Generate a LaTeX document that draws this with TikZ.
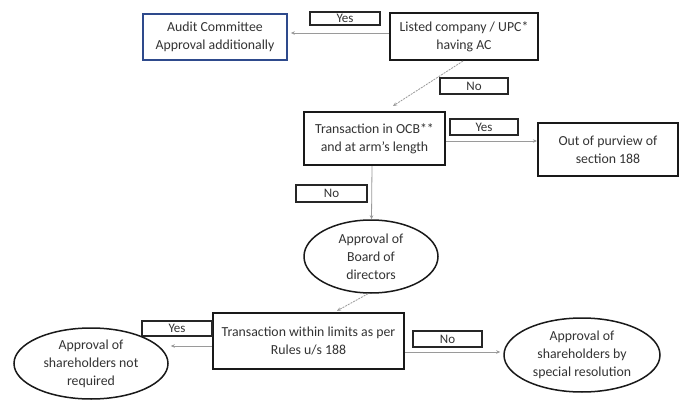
\documentclass[tikz,border=0pt]{standalone}
\usepackage{fontspec}
\setmainfont{Carlito}
\usetikzlibrary{arrows.meta,shapes.geometric}
\definecolor{conncol}{HTML}{9A9A9A}
\definecolor{txtcol}{HTML}{333333}
\definecolor{auditblue}{HTML}{2E4A8C}
\begin{document}
\begin{tikzpicture}[x=1pt,y=-1pt,
  every node/.style={text=txtcol,font=\fontsize{13.8}{18}\selectfont,align=center,inner sep=0pt},
  thickbox/.style={draw=black!90,line width=2.1pt,rectangle},
  bluebox/.style={draw=auditblue,line width=1.8pt,rectangle},
  tag/.style={draw=black!85,line width=1.3pt,rectangle,font=\fontsize{13}{14}\selectfont},
  oval/.style={draw=black!90,line width=1.5pt,ellipse},
  conn/.style={draw=conncol,line width=0.8pt,-{Stealth[length=4pt,width=3.5pt]}},
  dconn/.style={conn,dashed,dash pattern=on 2pt off 1pt}]
\useasboundingbox (0,0) rectangle (680,401);
\fill[white] (0,0) rectangle (680,401);

\node[bluebox,minimum width=144pt,minimum height=46pt] (audit) at (215,37) {Audit Committee\\Approval additionally};
\node[tag,minimum width=70pt,minimum height=13pt] (yes1) at (345,18.5) {Yes};
\node[thickbox,minimum width=148pt,minimum height=47pt] (listed) at (464,36.5) {Listed company / UPC*\\having AC};
\node[tag,minimum width=68pt,minimum height=16pt] (no1) at (474,86) {No};
\node[thickbox,minimum width=141pt,minimum height=53pt] (ocb) at (374.5,138.5) {Transaction in OCB**\\and at arm's length};
\node[tag,minimum width=68pt,minimum height=16pt] (yes2) at (484,127) {Yes};
\node[thickbox,minimum width=140pt,minimum height=53pt] (out) at (608,149.5) {Out of purview of\\section 188};
\node[tag,minimum width=71pt,minimum height=17pt] (no2) at (331.5,193.5) {No};
\node[oval,minimum width=134pt,minimum height=73pt] (board) at (371,256.5) {Approval of\\Board of\\directors};
\node[thickbox,line width=2.4pt,minimum width=191pt,minimum height=56pt] (trans) at (308.5,341) {Transaction within limits as per\\Rules u/s 188};
\node[tag,minimum width=70pt,minimum height=15pt] (yes3) at (177,328.5) {Yes};
\node[oval,minimum width=154pt,minimum height=71pt] (left) at (91,363.5) {Approval of\\shareholders not\\required};
\node[tag,minimum width=69pt,minimum height=16pt] (no3) at (447.5,339) {No};
\node[oval,minimum width=156pt,minimum height=74pt] (right) at (582,355) {Approval of\\shareholders by\\special resolution};

\draw[conn] ([yshift=3.5pt]listed.west) -- ([xshift=3pt,yshift=4pt]audit.east);
\draw[dconn] ([xshift=-1pt]listed.south) -- ([xshift=18.5pt,yshift=5pt]ocb.north);
\draw[conn] ([yshift=-2.5pt]ocb.east) -- ([yshift=8.5pt]out.west);
\draw[conn] ([xshift=-2.5pt]ocb.south) -- ([xshift=0.5pt]board.north);
\draw[dconn] ([xshift=-3pt]board.south) -- ([xshift=28.5pt,yshift=1pt]trans.north);
\draw[conn] ([yshift=-5pt]trans.west) -- ([xshift=2pt,yshift=17.5pt]left.east);
\draw[conn] ([yshift=-11pt]trans.east) -- ([xshift=-3pt,yshift=3pt]right.west);
\end{tikzpicture}
\end{document}
